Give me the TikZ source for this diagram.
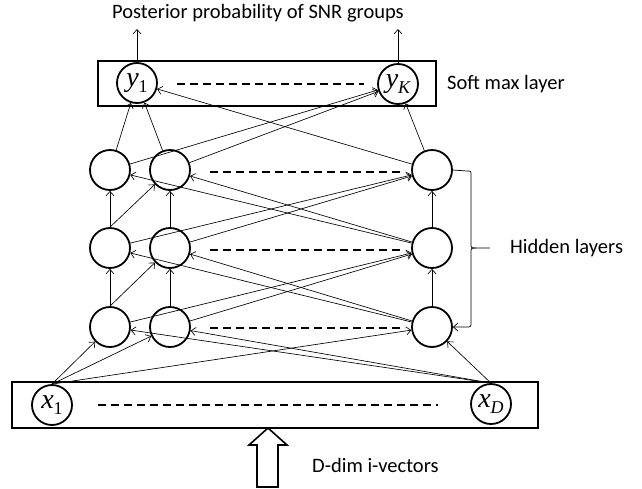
\documentclass[tikz,border=0pt]{standalone}
\usepackage{fontspec}
\setmainfont{Carlito}
\newfontfamily\tnr{Liberation Serif}
\usetikzlibrary{arrows.meta}
\newcommand{\vlab}[2]{{\tnr\fontsize{28}{28}\selectfont\itshape #1}\raisebox{-6pt}{\tnr\fontsize{18}{18}\selectfont #2}}
\begin{document}
\begin{tikzpicture}[x=1pt,y=-1pt,
  neuron/.style={circle,draw,line width=1.8pt,minimum size=40pt,inner sep=0pt},
  layerbox/.style={draw,line width=2pt},
  edge/.style={-{Straight Barb[length=4.5pt,width=8pt]},line width=0.65pt},
  dots/.style={line width=2.2pt,dash pattern=on 8pt off 5pt},
  lbl/.style={font=\fontsize{20.5}{24}\selectfont,inner sep=0pt}]
\useasboundingbox (0,0) rectangle (642,488);
% boxes
\draw[layerbox] (98,61) rectangle (436,106);
\draw[layerbox] (12,382) rectangle (538,428);
% output nodes
\node[neuron] (y1) at (137,83) {\vlab{y}{1}};
\node[neuron] (yK) at (398,84) {\vlab{y}{\itshape K}};
% hidden nodes
\foreach \r/\yy in {1/170,2/248,3/327}{
  \node[neuron] (h\r1) at (110,\yy) {};
  \node[neuron] (h\r2) at (170,\yy) {};
  \node[neuron] (h\r3) at (432,\yy) {};
}
% input nodes
\node[neuron] (x1) at (52,405) {\vlab{x}{1}};
\node[neuron] (xD) at (491,404) {\vlab{x}{\itshape D}};
% dashed lines
\draw[dots] (177,84) -- (364,84);
\draw[dots] (210,172) -- (405,172);
\draw[dots] (210,250) -- (405,250);
\draw[dots] (210,328) -- (405,328);
\draw[dots] (98,405) -- (438,405);
% input -> row 3
\foreach \t in {h31,h32,h33}{
  \draw[edge] (x1.north) -- (\t);
  \draw[edge] (xD.north) -- (\t);
}
% row 3 -> row 2
\draw[edge] (h31.north) -- (h21);
\draw[edge] (h31.north) -- (h22);
\draw[edge] (h31) -- (h23);
\draw[edge] (h32.north) -- (h22);
\draw[edge] (h32) -- (h23);
\draw[edge] (h33) -- (h21);
\draw[edge] (h33) -- (h22);
\draw[edge] (h33.north) -- (h23);
% row 2 -> row 1
\draw[edge] (h21.north) -- (h11);
\draw[edge] (h21.north) -- (h12);
\draw[edge] (h21) -- (h13);
\draw[edge] (h22.north) -- (h12);
\draw[edge] (h22) -- (h13);
\draw[edge] (h23) -- (h11);
\draw[edge] (h23) -- (h12);
\draw[edge] (h23.north) -- (h13);
% row 1 -> output
\draw[edge] (h11) -- (y1);
\draw[edge] (h12) -- (y1);
\draw[edge] (h13) -- (y1);
\draw[edge] (h11) -- (yK);
\draw[edge] (h12) -- (yK);
\draw[edge] (h13) -- (yK);
% outputs up
\coordinate (o1) at (137,29);
\coordinate (oK) at (398,29);
\draw[edge] (y1.north) -- (o1);
\draw[edge] (yK.north) -- (oK);
% brace
\draw[line width=0.7pt] (h13.east) -- (467,171) .. controls (471,171) .. (471,175) -- (471,243) .. controls (471,248) .. (476,248) -- (490,248);
\draw[edge,line width=0.7pt] (476,248) .. controls (471,248) .. (471,253) -- (471,322) .. controls (471,327) .. (466,327) -- (h33.east);
% big input arrow
\draw[line width=1.6pt,fill=white] (257,487) -- (257,445) -- (249,445) -- (268,428) -- (287,445) -- (278,445) -- (278,487) -- cycle;
% labels
\node[lbl] (title) at (258,13) {Posterior probability of SNR groups};
\node[lbl,anchor=west] (soft) at (447,84) {Soft max layer};
\node[lbl,anchor=west] (hid) at (510,248) {Hidden layers};
\node[lbl,anchor=west] (inp) at (312,465) {D-dim i-vectors};
\end{tikzpicture}
\end{document}
